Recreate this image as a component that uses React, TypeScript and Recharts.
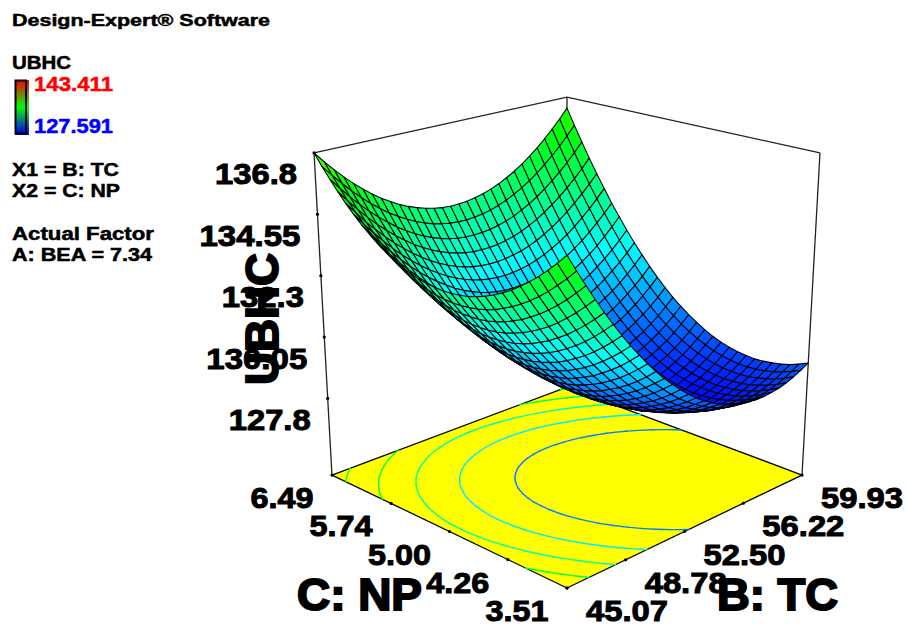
import React from "react";
import { ScatterChart, Scatter, XAxis, YAxis, Customized } from "recharts";

const ubhcTicks = [136.8, 134.55, 132.3, 130.05, 127.8];
const ubhcLabels = ["136.8", "134.55", "132.3", "130.05", "127.8"];
const tcTicks = [45.07, 48.78, 52.5, 56.22, 59.93];
const tcLabels = ["45.07", "48.78", "52.50", "56.22", "59.93"];
const npTicks = [3.51, 4.26, 5.0, 5.74, 6.49];
const npLabels = ["3.51", "4.26", "5.00", "5.74", "6.49"];
const contourLevels = [129.6, 131.2, 132.8, 134.4, 136.0];

// UBHC x 100; rows run along NP 3.51 -> 6.49, columns along TC 45.07 -> 59.93
const ubhcRows: number[][] = [
[13585,13524,13466,13410,13357,13307,13259,13214,13172,13132,13095,13060,13029,13000,12973,12949,12928,12910,12894,12880,12870,12862,12857,12854,12854,12857,12862,12870,12881,12894,12910],
[13549,13489,13432,13377,13324,13275,13228,13183,13142,13103,13066,13033,13002,12973,12947,12924,12904,12886,12871,12858,12848,12841,12837,12835,12835,12839,12845,12853,12865,12879,12895],
[13516,13457,13400,13346,13294,13245,13199,13155,13114,13076,13040,13007,12977,12949,12924,12902,12882,12865,12850,12839,12829,12823,12819,12818,12819,12823,12830,12839,12851,12866,12883],
[13486,13427,13371,13318,13267,13218,13173,13130,13090,13052,13017,12985,12955,12928,12904,12882,12863,12846,12833,12822,12813,12807,12804,12804,12806,12810,12818,12828,12841,12856,12874],
[13459,13400,13345,13292,13242,13194,13149,13107,13068,13031,12996,12965,12936,12910,12886,12865,12846,12831,12818,12807,12799,12794,12792,12792,12795,12800,12809,12819,12833,12849,12868],
[13434,13376,13321,13269,13220,13173,13129,13087,13048,13012,12979,12948,12919,12894,12871,12850,12833,12818,12805,12796,12789,12784,12782,12783,12787,12793,12802,12813,12827,12844,12864],
[13411,13355,13301,13249,13200,13154,13111,13070,13032,12996,12963,12933,12906,12881,12858,12839,12822,12807,12796,12787,12780,12777,12776,12777,12781,12788,12798,12810,12825,12842,12862],
[13392,13336,13282,13232,13184,13138,13095,13055,13018,12983,12951,12921,12894,12870,12849,12830,12813,12800,12789,12780,12775,12772,12771,12774,12779,12786,12796,12809,12825,12843,12864],
[13375,13320,13267,13217,13169,13125,13083,13043,13006,12972,12941,12912,12886,12862,12841,12823,12808,12795,12784,12777,12772,12770,12770,12773,12778,12787,12798,12811,12828,12846,12868],
[13361,13306,13254,13205,13158,13114,13073,13034,12998,12964,12934,12906,12880,12857,12837,12819,12805,12792,12783,12776,12772,12770,12771,12775,12781,12790,12802,12816,12833,12853,12875],
[13349,13295,13244,13195,13149,13106,13065,13027,12992,12959,12929,12902,12877,12855,12835,12818,12804,12793,12784,12778,12774,12773,12775,12779,12786,12796,12808,12823,12841,12861,12884],
[13340,13287,13236,13188,13143,13101,13061,13023,12989,12957,12927,12900,12876,12855,12836,12820,12807,12796,12788,12782,12779,12779,12781,12786,12794,12805,12818,12833,12852,12873,12896],
[13334,13282,13232,13184,13140,13098,13059,13022,12988,12957,12928,12902,12879,12858,12840,12824,12812,12801,12794,12789,12787,12787,12791,12796,12805,12816,12830,12846,12865,12887,12911],
[13331,13279,13230,13183,13139,13098,13059,13023,12990,12959,12931,12906,12883,12863,12846,12831,12819,12810,12803,12799,12797,12799,12802,12809,12818,12830,12844,12861,12881,12904,12929],
[13330,13279,13230,13184,13141,13101,13063,13027,12995,12965,12938,12913,12891,12872,12855,12841,12830,12821,12815,12811,12811,12813,12817,12824,12834,12847,12862,12879,12900,12923,12949],
[13332,13281,13233,13188,13146,13106,13069,13034,13002,12973,12946,12923,12901,12883,12867,12853,12843,12835,12829,12827,12826,12829,12834,12842,12853,12866,12882,12900,12921,12945,12972],
[13336,13286,13239,13195,13153,13114,13077,13044,13012,12984,12958,12935,12914,12896,12881,12868,12858,12851,12846,12844,12845,12848,12854,12863,12874,12888,12904,12924,12945,12970,12997],
[13343,13294,13248,13204,13163,13125,13089,13056,13025,12997,12972,12950,12930,12913,12898,12886,12877,12870,12866,12865,12866,12870,12877,12886,12898,12913,12930,12950,12972,12997,13025],
[13353,13305,13259,13216,13176,13138,13103,13070,13041,13013,12989,12967,12948,12931,12918,12906,12898,12892,12889,12888,12890,12895,12902,12912,12925,12940,12958,12978,13002,13028,13056],
[13366,13318,13273,13231,13191,13154,13120,13088,13059,13032,13009,12987,12969,12953,12940,12929,12922,12916,12914,12914,12917,12922,12930,12941,12954,12970,12989,13010,13034,13060,13090],
[13381,13334,13290,13248,13209,13173,13139,13108,13080,13054,13031,13010,12993,12977,12965,12955,12948,12943,12942,12942,12946,12952,12961,12972,12986,13003,13022,13044,13069,13096,13126],
[13399,13353,13309,13268,13230,13194,13161,13131,13103,13078,13056,13036,13019,13004,12993,12983,12977,12973,12972,12974,12978,12984,12994,13006,13021,13038,13058,13081,13106,13134,13165],
[13419,13374,13331,13291,13253,13218,13186,13156,13129,13105,13083,13064,13048,13034,13023,13014,13009,13006,13005,13007,13012,13020,13030,13043,13058,13076,13097,13120,13146,13175,13206],
[13443,13398,13356,13316,13279,13245,13213,13184,13158,13134,13113,13095,13079,13066,13056,13048,13043,13041,13041,13044,13049,13058,13068,13082,13098,13117,13138,13162,13189,13219,13251],
[13468,13424,13383,13344,13308,13274,13243,13215,13190,13167,13146,13129,13114,13101,13092,13085,13080,13079,13080,13083,13089,13098,13110,13124,13141,13160,13182,13207,13235,13265,13297],
[13497,13454,13413,13375,13339,13306,13276,13249,13224,13202,13182,13165,13151,13139,13130,13124,13120,13119,13121,13125,13132,13142,13154,13169,13186,13206,13229,13255,13283,13314,13347],
[13528,13486,13445,13408,13373,13341,13312,13285,13261,13239,13220,13204,13190,13179,13171,13165,13163,13162,13165,13170,13177,13187,13200,13216,13234,13255,13279,13305,13334,13365,13399],
[13562,13520,13481,13444,13410,13379,13350,13324,13300,13279,13261,13246,13233,13223,13215,13210,13208,13208,13211,13217,13225,13236,13250,13266,13285,13307,13331,13358,13387,13419,13454],
[13599,13558,13519,13483,13449,13419,13391,13365,13342,13322,13305,13290,13278,13268,13261,13257,13256,13257,13260,13267,13276,13287,13302,13319,13338,13361,13386,13413,13443,13476,13512],
[13638,13598,13560,13524,13491,13461,13434,13409,13387,13368,13351,13337,13325,13317,13310,13307,13306,13308,13312,13319,13329,13341,13356,13374,13394,13417,13443,13471,13502,13536,13572],
[13680,13640,13603,13568,13536,13507,13480,13456,13435,13416,13400,13387,13376,13368,13362,13359,13359,13362,13367,13375,13385,13398,13414,13432,13453,13477,13503,13532,13564,13598,13635],
];

const FONT = "'Liberation Sans', Arial, sans-serif";
const W = 907;
const H = 624;

const lerp = (a: number, b: number, t: number) => a + (b - a) * t;
const heightOf = (z: number) => 0.238 + (0.762 * (z - 127.8)) / 9;
const fracTC = (tc: number) => (tc - 45.07) / (59.93 - 45.07);
const fracNP = (np: number) => (np - 3.51) / (6.49 - 3.51);

function project(u: number, v: number, h: number) {
  const t = u + v;
  const wf = 1 + 0.142 * t;
  const wt = wf - 0.081;
  const xf = 567 + (268.4 * (u - v)) / wf;
  const yf = (588 - 45.5 * t) / wf;
  const xt = 567 + (268.4 * (u - v)) / wt;
  const yt = (588 - 45.5 * t - 380.2) / wt;
  return { sx: lerp(xf, xt, h), sy: lerp(yf, yt, h) };
}
const between = (a: any, b: any, t: number) => ({ sx: lerp(a.sx, b.sx, t), sy: lerp(a.sy, b.sy, t) });

const stops: [number, number[]][] = [
  [127.591, [0, 0, 255]],
  [131.5, [0, 255, 255]],
  [135.5, [0, 255, 0]],
  [139.5, [255, 255, 0]],
  [143.411, [255, 0, 0]],
];
function colorOf(z: number) {
  for (let k = 0; k < stops.length - 1; k++) {
    const [a, ca] = stops[k];
    const [b, cb] = stops[k + 1];
    if (z <= b) {
      const t = Math.max(0, (z - a) / (b - a));
      return `rgb(${ca.map((c, n) => Math.round(lerp(c, cb[n], t))).join(",")})`;
    }
  }
  return "rgb(255,0,0)";
}

const N = ubhcRows.length - 1;
const cells: any[] = [];
for (let j = N - 1; j >= 0; j--) {
  for (let i = N - 1; i >= 0; i--) {
    const idx = [[i, j], [i + 1, j], [i + 1, j + 1], [i, j + 1]];
    const zs = idx.map(([a, b]) => ubhcRows[b][a] / 100);
    const pts = idx.map(([a, b], n) => project(a / N, b / N, heightOf(zs[n])));
    const sx = pts.reduce((s, p) => s + p.sx, 0) / 4;
    const sy = pts.reduce((s, p) => s + p.sy, 0) / 4;
    cells.push({
      sx,
      sy,
      rel: pts.map((p) => [p.sx - sx, p.sy - sy]),
      fill: colorOf(zs.reduce((s, z) => s + z, 0) / 4),
    });
  }
}

function traceContour(level: number) {
  const out: any[] = [];
  for (let j = 0; j < N; j++) {
    for (let i = 0; i < N; i++) {
      const c = [[i, j], [i + 1, j], [i + 1, j + 1], [i, j + 1]];
      const hits: any[] = [];
      for (let e = 0; e < 4; e++) {
        const [a0, b0] = c[e];
        const [a1, b1] = c[(e + 1) % 4];
        const z0 = ubhcRows[b0][a0] / 100;
        const z1 = ubhcRows[b1][a1] / 100;
        if ((z0 < level) !== (z1 < level)) {
          const t = (level - z0) / (z1 - z0);
          hits.push(project(lerp(a0, a1, t) / N, lerp(b0, b1, t) / N, 0));
        }
      }
      if (hits.length === 2) {
        const sx = (hits[0].sx + hits[1].sx) / 2;
        const sy = (hits[0].sy + hits[1].sy) / 2;
        out.push({ sx, sy, rel: hits.map((p) => [p.sx - sx, p.sy - sy]) });
      }
    }
  }
  return out;
}
const contours = contourLevels.map((level) => ({ data: traceContour(level), color: colorOf(level) }));

const cFront = project(0, 0, 0);
const cRight = project(1, 0, 0);
const cLeft = project(0, 1, 0);

const floorCorners = [cFront, cRight, project(1, 1, 0), cLeft];
const floorCenter = {
  sx: floorCorners.reduce((s, p) => s + p.sx, 0) / 4,
  sy: floorCorners.reduce((s, p) => s + p.sy, 0) / 4,
};
const floorDatum = {
  ...floorCenter,
  rel: floorCorners.map((p) => [p.sx - floorCenter.sx, p.sy - floorCenter.sy]),
};

const frameLines = [
  [project(0, 1, 1), project(1, 1, 1), project(1, 0, 1)],
  [project(0, 1, 1), project(0, 1, 0)],
  [project(1, 1, 1), project(1, 1, 0)],
  [project(1, 0, 1), project(1, 0, 0)],
];

const zTickData = ubhcTicks.map((z, k) => ({ ...project(0, 1, heightOf(z)), label: ubhcLabels[k] }));
const tcTickData = tcTicks.map((t, k) => ({ ...between(cFront, cRight, fracTC(t)), label: tcLabels[k] }));
const npTickData = npTicks.map((n, k) => ({ ...between(cFront, cLeft, fracNP(n)), label: npLabels[k] }));

const none = () => <g />;
const polygon = (stroke: string, sw: number, fillOverride?: string) => (p: any) => (
  <polygon
    points={p.payload.rel.map(([dx, dy]: number[]) => `${p.cx + dx},${p.cy + dy}`).join(" ")}
    fill={fillOverride ?? p.payload.fill}
    stroke={stroke}
    strokeWidth={sw}
    strokeLinejoin="round"
  />
);
const segment = (color: string) => (p: any) => (
  <line
    x1={p.cx + p.payload.rel[0][0]}
    y1={p.cy + p.payload.rel[0][1]}
    x2={p.cx + p.payload.rel[1][0]}
    y2={p.cy + p.payload.rel[1][1]}
    stroke={color}
    strokeWidth={1.4}
    strokeLinecap="round"
  />
);

const tickShape = (dx: number, dy: number, anchor: string) => (p: any) => {
  const label = p.payload.label;
  const len = label.length === 6 ? 101 : label.length === 5 ? 82 : 63;
  return (
    <g>
      <circle cx={p.cx} cy={p.cy} r={1.6} fill="#000" />
      <text
        x={p.cx + dx}
        y={p.cy + dy}
        textAnchor={anchor}
        fontFamily={FONT}
        fontWeight="bold"
        fontSize={30}
        fill="#000"
        stroke="#000"
        strokeWidth={1}
        textLength={len}
        lengthAdjust="spacingAndGlyphs"
      >
        {label}
      </text>
    </g>
  );
};

const T = ({ x, y, w, size = 18, fill = "#000", sw = 0.5, children }: any) => (
  <text
    x={x}
    y={y}
    fontFamily={FONT}
    fontWeight="bold"
    fontSize={size}
    fill={fill}
    stroke={fill}
    strokeWidth={sw}
    textLength={w}
    lengthAdjust="spacingAndGlyphs"
  >
    {children}
  </text>
);

const Overlay = () => (
  <g>
    <defs>
      <linearGradient id="legendRamp" x1="0" y1="0" x2="0" y2="1">
        <stop offset="0" stopColor="#ff0000" />
        <stop offset="0.5" stopColor="#00ff00" />
        <stop offset="1" stopColor="#0000ff" />
      </linearGradient>
    </defs>
    <T x={12} y={26} w={258} size={17}>Design-Expert® Software</T>
    <T x={12} y={69} w={59}>UBHC</T>
    <rect x={15} y={80} width={14} height={55} fill="url(#legendRamp)" />
    <rect x={15.5} y={80.5} width={10.5} height={53} fill="url(#legendRamp)" stroke="#000" strokeWidth={2} />
    <T x={34} y={91} w={79} size={20} fill="#ff0000">143.411</T>
    <T x={34} y={133} w={79} size={20} fill="#0000ff">127.591</T>
    <T x={12} y={176} w={107}>X1 = B: TC</T>
    <T x={12} y={197} w={108}>X2 = C: NP</T>
    <T x={12} y={240} w={142}>Actual Factor</T>
    <T x={12} y={261} w={140}>A: BEA = 7.34</T>
    <text
      x={278}
      y={319}
      transform="rotate(-90 278 319)"
      textAnchor="middle"
      fontFamily={FONT}
      fontWeight="bold"
      fontSize={46}
      stroke="#000"
      strokeWidth={2}
      textLength={132}
      lengthAdjust="spacingAndGlyphs"
    >
      UBHC
    </text>
    <T x={297} y={610} w={125} size={44} sw={2}>C: NP</T>
    <T x={717} y={610} w={121} size={44} sw={2}>B: TC</T>
  </g>
);

export default function App() {
  return (
    <div style={{ position: "absolute", left: 0, top: 0, width: W, height: H }}>
      <ScatterChart width={W} height={H} margin={{ top: 0, right: 0, bottom: 0, left: 0 }}>
        <XAxis type="number" dataKey="sx" domain={[0, W]} hide />
        <YAxis type="number" dataKey="sy" domain={[0, H]} reversed hide width={0} />
        {frameLines.map((d, k) => (
          <Scatter key={`f${k}`} data={d} shape={none} line={{ stroke: "#222", strokeWidth: 1.3 }} isAnimationActive={false} />
        ))}
        <Scatter data={[floorDatum]} shape={polygon("#000", 1.3, "#ffff00")} isAnimationActive={false} />
        {contours.map((c, k) => (
          <Scatter key={`c${k}`} data={c.data} shape={segment(c.color)} isAnimationActive={false} />
        ))}
        <Scatter data={cells} shape={polygon("#000", 1.05)} isAnimationActive={false} />
        <Scatter data={zTickData} shape={tickShape(-17, 31.5, "end")} isAnimationActive={false} />
        <Scatter data={npTickData} shape={tickShape(-50, 33, "middle")} isAnimationActive={false} />
        <Scatter data={tcTickData} shape={tickShape(60, 33, "middle")} isAnimationActive={false} />
        <Customized component={Overlay} />
      </ScatterChart>
    </div>
  );
}
